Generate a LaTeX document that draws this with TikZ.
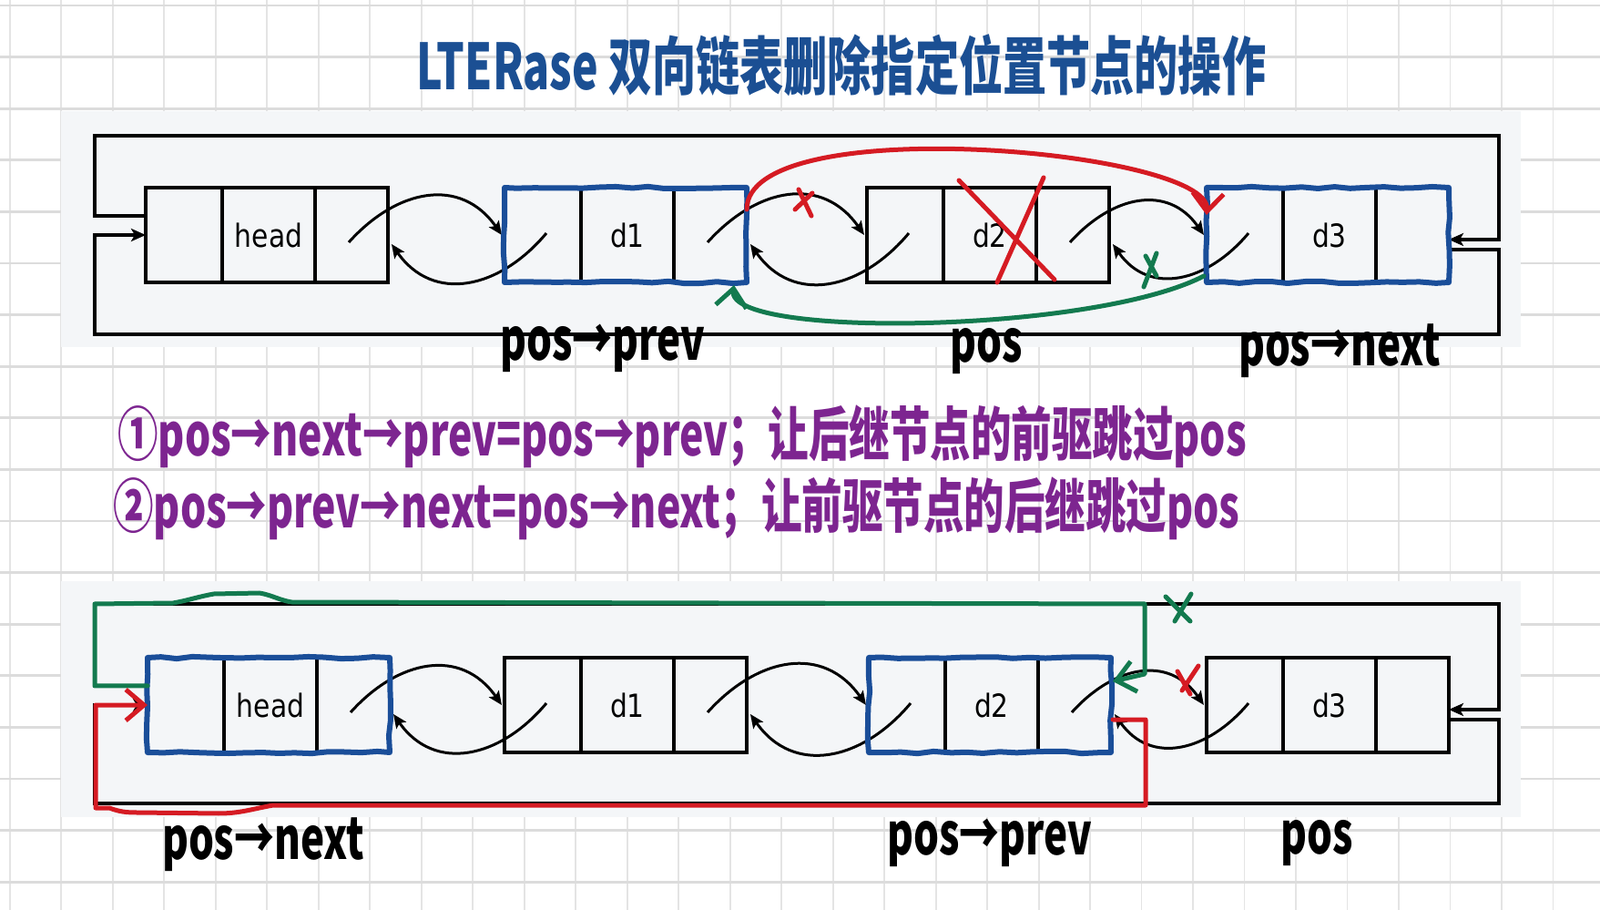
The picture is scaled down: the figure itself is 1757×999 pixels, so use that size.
\documentclass[tikz,border=0pt]{standalone}
\usepackage{fontspec}
\usetikzlibrary{arrows.meta,positioning,calc,decorations.pathmorphing}

\newfontfamily\handfont{Noto Sans CJK SC}[FakeStretch=0.83]
\newfontfamily\boxfont{DejaVu Sans}[FakeStretch=0.85]
\newcommand{\tallhand}[1]{\scalebox{1}[1.2]{#1}}

\definecolor{gridh}{HTML}{DCDCDC}
\definecolor{gridv}{HTML}{E4E4E4}
\definecolor{panel}{HTML}{F4F6F8}
\definecolor{titleblue}{HTML}{1B4F93}
\definecolor{notepurple}{HTML}{7D2590}
\definecolor{hlblue}{HTML}{1A4E99}
\definecolor{penred}{HTML}{D51B23}
\definecolor{pengreen}{HTML}{137A4F}

\begin{document}
\begin{tikzpicture}[x=0.5pt, y=0.5pt,
  ptrcell/.style={draw, line width=1.8pt, minimum width=42pt, minimum height=52pt,
    inner sep=0pt, outer sep=0pt},
  datacell/.style={ptrcell, minimum width=51pt, font=\boxfont\fontsize{17.5}{17.5}\selectfont},
  nextcell/.style={ptrcell, minimum width=40pt},
  link/.style={line width=1.5pt, -{Stealth[length=7.5pt,width=6.5pt,inset=1.5pt]}},
  loopline/.style={line width=1.8pt},
  loopend/.style={loopline, -{Stealth[length=8pt,width=7pt,inset=2pt]}},
  hilite/.style={draw=hlblue, line width=3pt, line join=round, decorate,
    decoration={random steps, segment length=9pt, amplitude=0.6pt}},
  redpen/.style={draw=penred, line width=2.5pt, line cap=round, line join=round},
  greenpen/.style={draw=pengreen, line width=2.5pt, line cap=round, line join=round},
  barb/.style={-{Straight Barb[length=10pt,width=17pt]}},
  hand/.style={font=\handfont\bfseries\fontsize{26.5}{28}\selectfont, inner sep=0pt},
  note/.style={font=\handfont\bfseries\fontsize{26.8}{30}\selectfont, text=notepurple, inner sep=0pt}
]
\useasboundingbox (0,0) rectangle (1757,-999);
\fill[white] (0,0) rectangle (1757,-999);

% squared paper
\foreach \gx in {0,...,31}
  \draw[gridv, line width=0.9pt] ({10.8+56.49*\gx},0) -- ++(0,-999);
\foreach \gy in {0,...,17}
  \draw[gridh, line width=1.4pt] (0,{-6-56.6*\gy}) -- ++(1757,0);

\fill[panel] (67,-122) rectangle (1670,-381);
\fill[panel] (67,-638) rectangle (1670,-897);

\node[font=\handfont\bfseries\fontsize{29}{30}\selectfont, text=titleblue, inner sep=0pt] (title)
  at (924,-72) {\tallhand{LTERase 双向链表删除指定位置节点的操作}};

% ---------- before: list with pos = d2 ----------
\node[ptrcell, anchor=west] (h1) at (160,-258) {};
\node[datacell, right=0pt of h1] (h2) {head};
\node[nextcell, right=0pt of h2] (h3) {};
\node[ptrcell, anchor=west] (a1) at (554,-258) {};
\node[datacell, right=0pt of a1] (a2) {d1};
\node[nextcell, right=0pt of a2] (a3) {};
\node[ptrcell, anchor=west] (b1) at (952,-258) {};
\node[datacell, right=0pt of b1] (b2) {d2};
\node[nextcell, right=0pt of b2] (b3) {};
\node[ptrcell, anchor=west] (c1) at (1325,-258) {};
\node[datacell, right=0pt of c1] (c2) {d3};
\node[nextcell, right=0pt of c2] (c3) {};

\draw[link] ($(h3.center)+(-3,-8)$) to[out=48,in=125,looseness=1.2] ($(a1.west)+(-3,0)$);
\draw[link] ($(a1.center)+(4,2)$) to[out=-130,in=-55,looseness=1.2] ($(h3.east)+(4,-10)$);
\draw[link] ($(a3.center)+(-3,-8)$) to[out=48,in=125,looseness=1.2] ($(b1.west)+(-3,0)$);
\draw[link] ($(b1.center)+(4,2)$) to[out=-130,in=-55,looseness=1.2] ($(a3.east)+(4,-10)$);
\draw[link] ($(b3.center)+(-3,-8)$) to[out=48,in=125,looseness=1.2] ($(c1.west)+(-3,0)$);
\draw[link] ($(c1.center)+(4,2)$) to[out=-130,in=-55,looseness=1.2] ($(b3.east)+(4,-10)$);

\coordinate (tl) at (104,-149);
\coordinate (tr) at (1646,-149);
\coordinate (bl) at (104,-367);
\coordinate (br) at (1646,-367);
\draw[loopend] ($(h1.west)+(0,21)$) -| (tl) -- (tr) |- ($(c3.east)+(0,-5)$);
\draw[loopend] ($(c3.east)+(0,-16)$) -| (br) -- (bl) |- (h1.west);

\draw[hilite] (a1.north west) rectangle (a3.south east);
\draw[hilite] (c1.north west) rectangle (c3.south east);

\draw[redpen, barb] ($(a3.north east)+(0,-24)$) .. controls (820,-120) and (1330,-165)
  .. ($(c1.north west)+(0,-30)$);
\draw[redpen] (877,-208) -- (891,-237) (892,-212) -- (873,-230);
\draw[redpen] (1053,-198) -- (1158,-307) (1146,-195) -- (1095,-310);

\draw[greenpen, barb] ($(c1.south west)+(-3,7)$) .. controls (1200,-366) and (798,-372)
  .. ($(a3.south east)+(-14,-3)$);
\draw[greenpen] (1258,-281) -- (1270,-303) (1270,-278) -- (1256,-315);

\node[hand] (lprev) at (662,-382) {\tallhand{pos→prev}};
\node[hand] (lpos) at (1083,-386) {\tallhand{pos}};
\node[hand] (lnext) at (1471,-385) {\tallhand{pos→next}};

% ---------- the two steps ----------
\node[note, anchor=west] (step1) at (129,-479)
  {\tallhand{①pos→next→prev=pos→prev；让后继节点的前驱跳过pos}};
\node[note, anchor=west] (step2) at (124,-558)
  {\tallhand{②pos→prev→next=pos→next；让前驱节点的后继跳过pos}};

% ---------- after: list with pos = d3 ----------
\node[ptrcell, anchor=west] (hh1) at (162,-774) {};
\node[datacell, right=0pt of hh1] (hh2) {head};
\node[nextcell, right=0pt of hh2] (hh3) {};
\node[ptrcell, anchor=west] (aa1) at (554,-774) {};
\node[datacell, right=0pt of aa1] (aa2) {d1};
\node[nextcell, right=0pt of aa2] (aa3) {};
\node[ptrcell, anchor=west] (bb1) at (954,-774) {};
\node[datacell, right=0pt of bb1] (bb2) {d2};
\node[nextcell, right=0pt of bb2] (bb3) {};
\node[ptrcell, anchor=west] (cc1) at (1325,-774) {};
\node[datacell, right=0pt of cc1] (cc2) {d3};
\node[nextcell, right=0pt of cc2] (cc3) {};

\draw[link] ($(hh3.center)+(-3,-8)$) to[out=48,in=125,looseness=1.2] ($(aa1.west)+(-3,0)$);
\draw[link] ($(aa1.center)+(4,2)$) to[out=-130,in=-55,looseness=1.2] ($(hh3.east)+(4,-10)$);
\draw[link] ($(aa3.center)+(-3,-8)$) to[out=48,in=125,looseness=1.2] ($(bb1.west)+(-3,0)$);
\draw[link] ($(bb1.center)+(4,2)$) to[out=-130,in=-55,looseness=1.2] ($(aa3.east)+(4,-10)$);
\draw[link] ($(bb3.center)+(-3,-8)$) to[out=48,in=125,looseness=1.2] ($(cc1.west)+(-3,0)$);
\draw[link] ($(cc1.center)+(4,2)$) to[out=-130,in=-55,looseness=1.2] ($(bb3.east)+(4,-10)$);

\coordinate (tl2) at (104,-663);
\coordinate (tr2) at (1646,-663);
\coordinate (bl2) at (104,-882);
\coordinate (br2) at (1646,-882);
\draw[loopend] ($(hh1.west)+(0,21)$) -| (tl2) -- (tr2) |- ($(cc3.east)+(0,-5)$);
\draw[loopend] ($(cc3.east)+(0,-16)$) -| (br2) -- (bl2) |- (hh1.west);

\draw[hilite] (hh1.north west) rectangle (hh3.south east);
\draw[hilite] (bb1.north west) rectangle (bb3.south east);

\draw[greenpen, barb] ($(hh1.west)+(0,21)$) -| (tl2) -- (190,-662)
  to[out=10,in=190] (235,-652) -- (285,-651) to[out=-10,in=170] (320,-661)
  -- (1257,-663) -- (1257,-740) -- ($(bb3.east)+(2,26)$);
\draw[greenpen] (1280,-655) -- (1307,-682) (1308,-652) -- (1290,-682);

\draw[redpen, barb] ($(bb3.east)+(2,-16)$) -- (1258,-790) -- (1258,-884) -- (300,-884)
  to[out=190,in=0] (240,-893) -- (150,-892) to[out=180,in=-20] (120,-887)
  -- (105,-887) |- (hh1.west);
\draw[redpen] (1293,-737) -- (1307,-762) (1316,-731) -- (1298,-758);

\node[hand] (lnext2) at (289,-927) {\tallhand{pos→next}};
\node[hand] (lprev2) at (1087,-925) {\tallhand{pos→prev}};
\node[hand] (lpos2) at (1446,-926) {\tallhand{pos}};

\end{tikzpicture}
\end{document}
